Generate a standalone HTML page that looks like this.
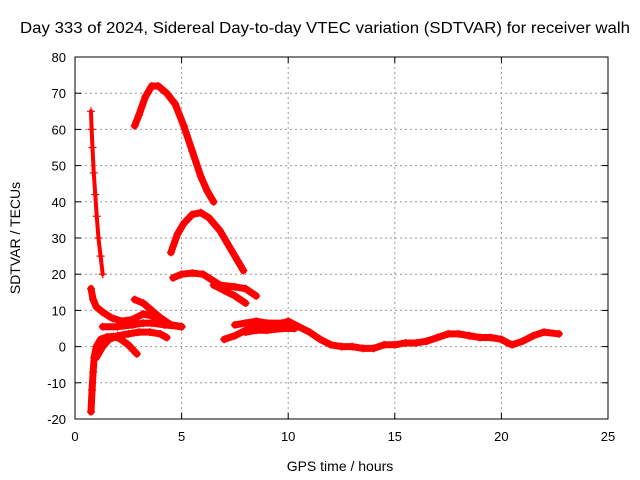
<!DOCTYPE html>
<html><head><meta charset="utf-8"><style>
body{margin:0;background:#fff}
svg{display:block;font-family:"Liberation Sans",sans-serif}
</style></head><body>
<svg id="chart" width="640" height="480">
<text x="325" y="33" font-size="15.5" text-anchor="middle" textLength="610" lengthAdjust="spacingAndGlyphs">Day 333 of 2024, Sidereal Day-to-day VTEC variation (SDTVAR) for receiver walh</text>
<text x="340" y="471" font-size="14" text-anchor="middle">GPS time / hours</text>
<text x="0" y="0" font-size="14" text-anchor="middle" transform="translate(20,238) rotate(-90)">SDTVAR / TECUs</text>
<g id="grid"></g><g id="ticks"></g><g id="series"></g>
<rect x="75" y="57" width="533" height="362" fill="none" stroke="#000" stroke-width="1"/>
</svg>
<script>
const xTicks=[0,5,10,15,20,25];
const yTicks=[-20,-10,0,10,20,30,40,50,60,70,80];
const trackA=[[0.75,65],[0.78,60],[0.82,55],[0.88,48],[0.95,42],[1.02,36],[1.1,30],[1.2,25],[1.3,20]];
const trackB=[[2.8,61],[3.0,64],[3.3,69],[3.6,72],[3.9,72],[4.3,70],[4.7,67],[5.1,61],[5.5,54],[5.9,47],[6.2,43],[6.5,40]];
const trackC=[[4.5,26],[4.8,31],[5.1,34],[5.5,36.5],[5.9,37],[6.3,35.5],[6.8,32],[7.3,27],[7.9,21]];
const trackD=[[4.6,19],[5.0,20],[5.5,20.3],[6.0,20],[6.4,18.5],[6.8,17],[7.5,16.5],[8,16],[8.5,14]];
const trackE=[[6.5,17],[7.0,15.5],[7.5,14],[8.0,12]];
const trackF=[[0.75,16],[0.85,13],[1.0,11],[1.3,9.5],[1.7,8],[2.2,7],[2.7,7.5],[3.2,9],[3.6,8.5],[4.0,7],[4.5,6],[5.0,5.5]];
const trackG=[[1.3,5.5],[2,5.5],[2.7,6],[3.2,6.5],[3.6,6.5],[4.2,6],[5,5.5]];
const trackH=[[2.8,13],[3.2,12],[3.6,10],[4.0,8],[4.5,6],[5,5.5]];
const trackI=[[0.75,-18],[0.8,-12],[0.85,-7],[0.9,-3],[1.0,0],[1.2,2],[1.5,2.7],[1.8,2.8],[2.1,2.2],[2.5,0.5],[2.9,-2]];
const trackJ=[[1.0,-3],[1.3,0],[1.6,2],[2.0,3],[2.5,3.5],[3,4],[3.5,4],[4,3.5],[4.3,2.5]];
const trackK=[[7.0,2],[7.5,3],[8,4.5],[8.5,5.5],[9,6],[9.5,6],[10,7],[10.5,5.5],[11,4],[11.5,2],[12,0.5],[12.5,0],[13,0],[13.5,-0.5],[14,-0.5],[14.5,0.5],[15,0.5],[15.5,1],[16,1],[16.5,1.5],[17,2.5],[17.5,3.5],[18,3.5],[18.5,3],[19,2.5],[19.5,2.5],[20,2],[20.3,1],[20.5,0.5],[21,1.5],[21.5,3],[22,4],[22.7,3.5]];
const trackL=[[7.5,6],[8,6.5],[8.5,7],[9,6.5],[9.7,6.5]];
const trackM=[[8,4],[8.5,4.5],[9,4.5],[9.7,5],[10.3,5]];
const tracks=[trackA,trackB,trackC,trackD,trackE,trackF,trackG,trackH,trackI,trackJ,trackK,trackL,trackM];
const NS="http://www.w3.org/2000/svg";
const X0=75,X1=608,Y0=419,Y1=57;
function sx(v){return X0+(v-0)/(25-0)*(X1-X0);}
function sy(v){return Y0-(v-(-20))/(80-(-20))*(Y0-Y1);}
function mk(tag,attrs,parent){const e=document.createElementNS(NS,tag);for(const k in attrs)e.setAttribute(k,attrs[k]);parent.appendChild(e);return e;}
const grid=document.getElementById('grid'),ticks=document.getElementById('ticks'),ser=document.getElementById('series');
xTicks.forEach(t=>{
  const x=sx(t);
  if(t>0&&t<25){const g=mk('line',{x1:x,x2:x,y1:Y1,y2:Y0,stroke:'#999','stroke-dasharray':'2,3'},grid);
  
  }
  mk('line',{x1:x,x2:x,y1:Y0,y2:Y0-6,stroke:'#000'},ticks);
  mk('line',{x1:x,x2:x,y1:Y1,y2:Y1+6,stroke:'#000'},ticks);
  const l=mk('text',{x:x,y:Y0+22,'font-size':'13','text-anchor':'middle'},ticks);l.textContent=t;
  
  
});
yTicks.forEach(t=>{
  const y=sy(t);
  if(t>-20&&t<80){const g=mk('line',{x1:X0,x2:X1,y1:y,y2:y,stroke:'#999','stroke-dasharray':'2,3'},grid);
  
  }
  mk('line',{x1:X0,x2:X0+6,y1:y,y2:y,stroke:'#000'},ticks);
  mk('line',{x1:X1,x2:X1-6,y1:y,y2:y,stroke:'#000'},ticks);
  const l=mk('text',{x:X0-9,y:y+5,'font-size':'13','text-anchor':'end'},ticks);l.textContent=t;
  
  
});
tracks.forEach((tr,i)=>{
  const pts=tr.map(p=>sx(p[0])+','+sy(p[1])).join(' ');
  const pl=mk('polyline',{points:pts,fill:'none',stroke:'#f00','stroke-width':i===0?4:7,'stroke-linejoin':'round','stroke-linecap':'round'},ser);
  
  
  tr.forEach(p=>{
    const x=sx(p[0]),y=sy(p[1]);
    const m=mk('path',{d:`M${x-4},${y}H${x+4}M${x},${y-4}V${y+4}`,stroke:'#f00','stroke-width':1.2},ser);
    
    
  });
});
</script>
</body></html>
